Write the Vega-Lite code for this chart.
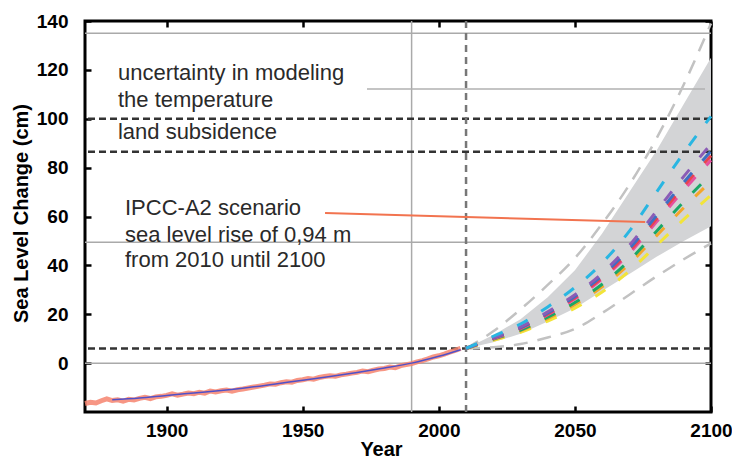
{
  "$schema": "https://vega.github.io/schema/vega-lite/v6.json",
  "autosize": "none",
  "width": 626,
  "height": 391,
  "padding": {"left": 85, "top": 21, "right": 21, "bottom": 47},
  "background": "white",
  "config": {
    "view": {"stroke": "black", "strokeWidth": 3},
    "font": "Liberation Sans"
  },
  "datasets": {
    "band": [
      {"year": 2010, "lo": 6, "hi": 6},
      {"year": 2020, "lo": 8.5, "hi": 11.5},
      {"year": 2030, "lo": 12, "hi": 18},
      {"year": 2040, "lo": 17, "hi": 27},
      {"year": 2050, "lo": 22.5, "hi": 38},
      {"year": 2060, "lo": 29.5, "hi": 53},
      {"year": 2070, "lo": 36.5, "hi": 70},
      {"year": 2080, "lo": 43.5, "hi": 87},
      {"year": 2090, "lo": 50, "hi": 106},
      {"year": 2100, "lo": 56, "hi": 125}
    ],
    "hsolid": [{"v": 135}, {"v": 49.5}, {"v": 0}],
    "hdash": [{"v": 100}, {"v": 86.5}, {"v": 6}],
    "vsolid": [{"yr": 1990}],
    "vdash": [{"yr": 2010}],
    "leaderGray": [{"x1": 1973.6, "x2": 2097.8, "y1": 112.2, "y2": 112.2}],
    "leaderOrange": [{"x1": 1958.2, "x2": 2075.8, "y1": 61.4, "y2": 57.7}],
    "bounds": [
      {"year": 2010, "series": "upper", "value": 6},
      {"year": 2020, "series": "upper", "value": 13},
      {"year": 2030, "series": "upper", "value": 22},
      {"year": 2040, "series": "upper", "value": 32},
      {"year": 2050, "series": "upper", "value": 43},
      {"year": 2060, "series": "upper", "value": 57},
      {"year": 2070, "series": "upper", "value": 73},
      {"year": 2080, "series": "upper", "value": 92},
      {"year": 2090, "series": "upper", "value": 114},
      {"year": 2100, "series": "upper", "value": 139},
      {"year": 2010, "series": "lower", "value": 6},
      {"year": 2020, "series": "lower", "value": 6.5},
      {"year": 2030, "series": "lower", "value": 7.8},
      {"year": 2040, "series": "lower", "value": 10.5},
      {"year": 2050, "series": "lower", "value": 14},
      {"year": 2060, "series": "lower", "value": 20.5},
      {"year": 2070, "series": "lower", "value": 28},
      {"year": 2080, "series": "lower", "value": 35.5},
      {"year": 2090, "series": "lower", "value": 42.5},
      {"year": 2100, "series": "lower", "value": 49}
    ],
    "scen": [
      {"year": 2010, "series": "yellow", "value": 6}, {"year": 2020, "series": "yellow", "value": 9.3}, {"year": 2030, "series": "yellow", "value": 12.6}, {"year": 2040, "series": "yellow", "value": 17.2}, {"year": 2050, "series": "yellow", "value": 22.5}, {"year": 2060, "series": "yellow", "value": 29.1}, {"year": 2070, "series": "yellow", "value": 37.7}, {"year": 2080, "series": "yellow", "value": 48.2}, {"year": 2090, "series": "yellow", "value": 58.8}, {"year": 2100, "series": "yellow", "value": 68.7},
      {"year": 2010, "series": "orange", "value": 6}, {"year": 2020, "series": "orange", "value": 9.6}, {"year": 2030, "series": "orange", "value": 13.2}, {"year": 2040, "series": "orange", "value": 18.2}, {"year": 2050, "series": "orange", "value": 24}, {"year": 2060, "series": "orange", "value": 31.2}, {"year": 2070, "series": "orange", "value": 40.6}, {"year": 2080, "series": "orange", "value": 52.1}, {"year": 2090, "series": "orange", "value": 63.6}, {"year": 2100, "series": "orange", "value": 74.4},
      {"year": 2010, "series": "green", "value": 6}, {"year": 2020, "series": "green", "value": 9.8}, {"year": 2030, "series": "green", "value": 13.5}, {"year": 2040, "series": "green", "value": 18.8}, {"year": 2050, "series": "green", "value": 24.8}, {"year": 2060, "series": "green", "value": 32.3}, {"year": 2070, "series": "green", "value": 42}, {"year": 2080, "series": "green", "value": 54}, {"year": 2090, "series": "green", "value": 66}, {"year": 2100, "series": "green", "value": 77.3},
      {"year": 2010, "series": "magenta", "value": 6}, {"year": 2020, "series": "magenta", "value": 10}, {"year": 2030, "series": "magenta", "value": 14.1}, {"year": 2040, "series": "magenta", "value": 19.8}, {"year": 2050, "series": "magenta", "value": 26.3}, {"year": 2060, "series": "magenta", "value": 34.4}, {"year": 2070, "series": "magenta", "value": 44.9}, {"year": 2080, "series": "magenta", "value": 57.8}, {"year": 2090, "series": "magenta", "value": 70.8}, {"year": 2100, "series": "magenta", "value": 83},
      {"year": 2010, "series": "red", "value": 6}, {"year": 2020, "series": "red", "value": 10.2}, {"year": 2030, "series": "red", "value": 14.3}, {"year": 2040, "series": "red", "value": 20.1}, {"year": 2050, "series": "red", "value": 26.8}, {"year": 2060, "series": "red", "value": 35}, {"year": 2070, "series": "red", "value": 45.8}, {"year": 2080, "series": "red", "value": 59.1}, {"year": 2090, "series": "red", "value": 72.4}, {"year": 2100, "series": "red", "value": 84.9},
      {"year": 2010, "series": "blue", "value": 6}, {"year": 2020, "series": "blue", "value": 10.3}, {"year": 2030, "series": "blue", "value": 14.5}, {"year": 2040, "series": "blue", "value": 20.5}, {"year": 2050, "series": "blue", "value": 27.3}, {"year": 2060, "series": "blue", "value": 35.8}, {"year": 2070, "series": "blue", "value": 46.8}, {"year": 2080, "series": "blue", "value": 60.4}, {"year": 2090, "series": "blue", "value": 74}, {"year": 2100, "series": "blue", "value": 86.8},
      {"year": 2010, "series": "purple", "value": 6}, {"year": 2020, "series": "purple", "value": 10.4}, {"year": 2030, "series": "purple", "value": 14.8}, {"year": 2040, "series": "purple", "value": 21}, {"year": 2050, "series": "purple", "value": 28}, {"year": 2060, "series": "purple", "value": 36.8}, {"year": 2070, "series": "purple", "value": 48.2}, {"year": 2080, "series": "purple", "value": 62.3}, {"year": 2090, "series": "purple", "value": 76.4}, {"year": 2100, "series": "purple", "value": 89.6},
      {"year": 2010, "series": "cyan", "value": 6}, {"year": 2020, "series": "cyan", "value": 11}, {"year": 2030, "series": "cyan", "value": 16}, {"year": 2040, "series": "cyan", "value": 23}, {"year": 2050, "series": "cyan", "value": 31}, {"year": 2060, "series": "cyan", "value": 41}, {"year": 2070, "series": "cyan", "value": 54}, {"year": 2080, "series": "cyan", "value": 70}, {"year": 2090, "series": "cyan", "value": 86}, {"year": 2100, "series": "cyan", "value": 101}
    ],
    "hist": [
      {"year": 1870, "value": -16.5}, {"year": 1872, "value": -16.0}, {"year": 1874, "value": -16.3}, {"year": 1876, "value": -15.4}, {"year": 1878, "value": -14.6}, {"year": 1880, "value": -15.3}, {"year": 1882, "value": -15.0}, {"year": 1884, "value": -15.6}, {"year": 1886, "value": -14.8}, {"year": 1888, "value": -15.1}, {"year": 1890, "value": -14.4}, {"year": 1892, "value": -14.0}, {"year": 1894, "value": -14.5}, {"year": 1896, "value": -13.8}, {"year": 1898, "value": -13.6}, {"year": 1900, "value": -13.2}, {"year": 1902, "value": -12.6}, {"year": 1904, "value": -13.1}, {"year": 1906, "value": -12.7}, {"year": 1908, "value": -12.2}, {"year": 1910, "value": -12.5}, {"year": 1912, "value": -11.9}, {"year": 1914, "value": -12.3}, {"year": 1916, "value": -11.4}, {"year": 1918, "value": -11.8}, {"year": 1920, "value": -11.3}, {"year": 1922, "value": -11.0}, {"year": 1924, "value": -11.5}, {"year": 1926, "value": -10.9}, {"year": 1928, "value": -10.6}, {"year": 1930, "value": -10.2}, {"year": 1932, "value": -9.8}, {"year": 1934, "value": -9.4}, {"year": 1936, "value": -9.0}, {"year": 1938, "value": -8.5}, {"year": 1940, "value": -8.6}, {"year": 1942, "value": -8.0}, {"year": 1944, "value": -7.6}, {"year": 1946, "value": -7.8}, {"year": 1948, "value": -7.1}, {"year": 1950, "value": -6.8}, {"year": 1952, "value": -6.3}, {"year": 1954, "value": -6.6}, {"year": 1956, "value": -5.9}, {"year": 1958, "value": -5.5}, {"year": 1960, "value": -5.2}, {"year": 1962, "value": -5.4}, {"year": 1964, "value": -4.8}, {"year": 1966, "value": -4.5}, {"year": 1968, "value": -4.1}, {"year": 1970, "value": -3.8}, {"year": 1972, "value": -3.2}, {"year": 1974, "value": -3.5}, {"year": 1976, "value": -2.9}, {"year": 1978, "value": -2.4}, {"year": 1980, "value": -2.2}, {"year": 1982, "value": -1.6}, {"year": 1984, "value": -1.9}, {"year": 1986, "value": -1.0}, {"year": 1988, "value": -0.6}, {"year": 1990, "value": -0.2}, {"year": 1992, "value": 0.5}, {"year": 1994, "value": 1.0}, {"year": 1996, "value": 1.7}, {"year": 1998, "value": 2.5}, {"year": 2000, "value": 3.0}, {"year": 2002, "value": 3.7}, {"year": 2004, "value": 4.5}, {"year": 2006, "value": 5.2}, {"year": 2008, "value": 6.0}
    ],
    "smooth": [
      {"year": 1880, "value": -15}, {"year": 1890, "value": -14.3}, {"year": 1900, "value": -13.2}, {"year": 1910, "value": -12.2}, {"year": 1920, "value": -11.2}, {"year": 1930, "value": -10}, {"year": 1940, "value": -8.5}, {"year": 1950, "value": -7}, {"year": 1960, "value": -5.5}, {"year": 1970, "value": -3.8}, {"year": 1980, "value": -2}, {"year": 1990, "value": 0}, {"year": 2000, "value": 2.8}, {"year": 2008, "value": 5.5}
    ],
    "labels": [
      {"year": 1882.1, "value": 118.7, "text": "uncertainty in modeling"},
      {"year": 1882.1, "value": 107.7, "text": "the temperature"},
      {"year": 1882.1, "value": 94.6, "text": "land subsidence"},
      {"year": 1884.7, "value": 63.5, "text": "IPCC-A2 scenario"},
      {"year": 1884.7, "value": 52.4, "text": "sea level rise of 0,94 m"},
      {"year": 1884.7, "value": 42.2, "text": "from 2010 until 2100"}
    ]
  },
  "resolve": {"axis": {"x": "independent", "y": "independent"}},
  "layer": [
    {
      "data": {"name": "band"},
      "mark": {"type": "area", "color": "#d3d4d6"},
      "encoding": {
        "x": {"field": "year", "type": "quantitative", "scale": {"domain": [1870, 2100], "nice": false, "zero": false},
          "axis": {"orient": "bottom", "values": [1900, 1950, 2000, 2050, 2100], "format": "d", "tickSize": -6, "tickWidth": 2.5, "tickColor": "black",
            "domain": false, "grid": false, "labelFont": "Liberation Sans", "labelFontWeight": "bold", "labelFontSize": 19, "labelColor": "black",
            "labelPadding": 15, "labelFlush": false, "title": "Year", "titleFont": "Liberation Sans", "titleFontWeight": "bold", "titleFontSize": 20,
            "titleColor": "black", "titleX": 296, "titleY": 37, "titleBaseline": "middle", "titleAnchor": null, "titleAlign": "center"}},
        "y": {"field": "lo", "type": "quantitative", "scale": {"domain": [-20, 140], "nice": false, "zero": false},
          "axis": {"orient": "left", "values": [0, 20, 40, 60, 80, 100, 120, 140], "format": "d", "tickSize": -6, "tickWidth": 2.5, "tickColor": "black",
            "domain": false, "grid": false, "labelFont": "Liberation Sans", "labelFontWeight": "bold", "labelFontSize": 19, "labelColor": "black",
            "labelPadding": 23, "labelFlush": false, "title": "Sea Level Change (cm)", "titleFont": "Liberation Sans", "titleFontWeight": "bold",
            "titleFontSize": 20, "titleColor": "black", "titleX": -64, "titleY": 192, "titleBaseline": "middle", "titleAlign": "center", "titleAngle": -90}},
        "y2": {"field": "hi"}
      }
    },
    {
      "data": {"name": "hsolid"},
      "mark": {"type": "rule", "color": "#aaaaaa", "strokeWidth": 1.5},
      "encoding": {"y": {"field": "v", "type": "quantitative", "axis": null}}
    },
    {
      "data": {"name": "vsolid"},
      "mark": {"type": "rule", "color": "#aaaaaa", "strokeWidth": 1.5},
      "encoding": {"x": {"field": "yr", "type": "quantitative", "axis": null}}
    },
    {
      "data": {"name": "leaderGray"},
      "mark": {"type": "rule", "color": "#b0b0b0", "strokeWidth": 1.5},
      "encoding": {
        "x": {"field": "x1", "type": "quantitative", "axis": null}, "x2": {"field": "x2"},
        "y": {"field": "y1", "type": "quantitative", "axis": null}, "y2": {"field": "y2"}
      }
    },
    {
      "data": {"name": "hdash"},
      "mark": {"type": "rule", "color": "#333333", "strokeWidth": 2.5, "strokeDash": [7, 4]},
      "encoding": {"y": {"field": "v", "type": "quantitative", "axis": null}}
    },
    {
      "data": {"name": "vdash"},
      "mark": {"type": "rule", "color": "#777777", "strokeWidth": 2.5, "strokeDash": [7, 5]},
      "encoding": {"x": {"field": "yr", "type": "quantitative", "axis": null}}
    },
    {
      "data": {"name": "bounds"},
      "mark": {"type": "line", "color": "#c2c2c2", "strokeWidth": 2.5, "strokeDash": [14, 10], "interpolate": "monotone"},
      "encoding": {
        "x": {"field": "year", "type": "quantitative",
          "axis": {"orient": "top", "values": [1900, 1950, 2000, 2050, 2100], "tickSize": -6, "tickWidth": 2.5, "tickColor": "black",
            "domain": false, "grid": false, "labels": false, "title": null}},
        "y": {"field": "value", "type": "quantitative",
          "axis": {"orient": "right", "values": [0, 20, 40, 60, 80, 100, 120, 140], "tickSize": -6, "tickWidth": 2.5, "tickColor": "black",
            "domain": false, "grid": false, "labels": false, "title": null}},
        "detail": {"field": "series"}
      }
    },
    {
      "data": {"name": "leaderOrange"},
      "mark": {"type": "rule", "color": "#f2734f", "strokeWidth": 2},
      "encoding": {
        "x": {"field": "x1", "type": "quantitative", "axis": null}, "x2": {"field": "x2"},
        "y": {"field": "y1", "type": "quantitative", "axis": null}, "y2": {"field": "y2"}
      }
    },
    {
      "data": {"name": "scen"},
      "mark": {"type": "line", "strokeWidth": 3, "strokeDash": [12, 16], "interpolate": "monotone"},
      "encoding": {
        "x": {"field": "year", "type": "quantitative", "axis": null},
        "y": {"field": "value", "type": "quantitative", "axis": null},
        "color": {"field": "series", "type": "nominal", "legend": null,
          "scale": {"domain": ["yellow", "orange", "green", "magenta", "red", "blue", "purple", "cyan"],
            "range": ["#f2e43a", "#f4a62a", "#1ba766", "#e6509f", "#e8434f", "#3f6fc2", "#8b5cb6", "#29b6e2"]}}
      }
    },
    {
      "data": {"name": "hist"},
      "mark": {"type": "line", "color": "#f6846f", "strokeWidth": 5, "opacity": 0.85},
      "encoding": {
        "x": {"field": "year", "type": "quantitative", "axis": null},
        "y": {"field": "value", "type": "quantitative", "axis": null}
      }
    },
    {
      "data": {"name": "smooth"},
      "mark": {"type": "line", "color": "#5050c8", "strokeWidth": 1.5, "interpolate": "monotone"},
      "encoding": {
        "x": {"field": "year", "type": "quantitative", "axis": null},
        "y": {"field": "value", "type": "quantitative", "axis": null}
      }
    },
    {
      "data": {"name": "labels"},
      "mark": {"type": "text", "align": "left", "baseline": "middle", "font": "Liberation Sans", "fontSize": 22, "color": "#2a2a2a"},
      "encoding": {
        "x": {"field": "year", "type": "quantitative", "axis": null},
        "y": {"field": "value", "type": "quantitative", "axis": null},
        "text": {"field": "text"}
      }
    }
  ]
}
